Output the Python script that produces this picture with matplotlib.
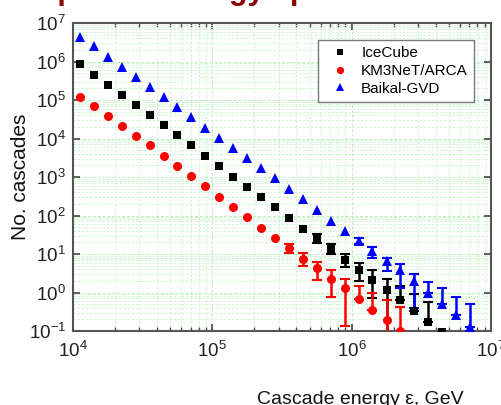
import matplotlib
matplotlib.use("Agg")
import matplotlib.pyplot as plt
from matplotlib.ticker import LogLocator, NullFormatter
import numpy as np

plt.rcParams['font.family'] = ['Liberation Sans', 'DejaVu Sans']
plt.rcParams['mathtext.fontset'] = 'custom'
plt.rcParams['mathtext.rm'] = 'Liberation Sans'
plt.rcParams['mathtext.it'] = 'Liberation Sans:italic'

# Cascade energy bin centres, GeV
energy = [1.12e4, 1.41e4, 1.78e4, 2.24e4, 2.82e4, 3.55e4, 4.47e4, 5.62e4, 7.08e4, 8.91e4,
          1.12e5, 1.41e5, 1.78e5, 2.24e5, 2.82e5, 3.55e5, 4.47e5, 5.62e5, 7.08e5, 8.91e5,
          1.12e6, 1.41e6, 1.78e6, 2.24e6, 2.82e6, 3.55e6, 4.47e6, 5.62e6, 7.08e6]

icecube = [8.45e5, 4.54e5, 2.40e5, 1.38e5, 7.6e4, 4.07e4, 2.19e4, 1.20e4, 6.8e3, 3.5e3,
           1.95e3, 1.02e3, 562, 309, 162, 87, 45.7, 25.7, 13.8, 7.1,
           3.9, 2.14, 1.17, 0.64, 0.335, 0.174, 0.095]
km3net = [1.22e5, 6.98e4, 3.89e4, 2.14e4, 1.17e4, 6.6e3, 3.55e3, 1.95e3, 1.07e3, 589,
          309, 170, 93, 46.8, 26.3, 14.5, 7.4, 4.3, 2.24, 1.29,
          0.66, 0.35, 0.195, 0.102]
baikal = [4.37e6, 2.51e6, 1.33e6, 7.33e5, 3.89e5, 2.14e5, 1.17e5, 6.46e4, 3.55e4, 1.91e4,
          1.02e4, 5.6e3, 3.09e3, 1.68e3, 925, 488, 263, 135, 74, 39.8,
          21.9, 11.7, 6.6, 3.8, 1.95, 0.955, 0.50, 0.263, 0.126]

# error bar bounds (upper / lower) for the high-energy tail points
icecube_err_start = 17
icecube_hi = [33, 17.8, 10, 6.0, 3.8, 2.2, 1.48, 0.89, 0.575]
icecube_lo = [19.5, 10, 4.6, 2.0, 0.74, 0.01, 0.64, 0.335, 0.174]
km3net_err_start = 15
km3net_hi = [17.8, 10.7, 6.3, 3.8, 2.2, 1.48, 0.955, 0.62, 0.43]
km3net_lo = [10.5, 5.0, 2.1, 0.78, 0.135, 0.66, 0.35, 0.01, 0.01]
baikal_err_start = 20
baikal_hi = [26.3, 15.5, 8.1, 5.4, 2.95, 1.9, 1.29, 0.78, 0.50]
baikal_lo = [18.2, 8.1, 3.7, 1.29, 0.39, 0.955, 0.50, 0.263, 0.126]

labels = ['IceCube', 'KM3NeT/ARCA', 'Baikal-GVD']
colors = ['#000000', '#ff0000', '#0000ff']
markers = ['s', 'o', '^']
msizes = [6.0, 6.5, 7.0]

W, H = 501, 405
fig = plt.figure(figsize=(W / 100, H / 100), dpi=100)
ax = fig.add_axes([73 / W, (H - 331) / H, (491 - 73) / W, (331 - 23) / H])
ax.set_xscale('log')
ax.set_yscale('log')
ax.set_xlim(1e4, 1e7)
ax.set_ylim(1e-1, 1e7)

series = [(icecube, icecube_err_start, icecube_hi, icecube_lo),
          (km3net, km3net_err_start, km3net_hi, km3net_lo),
          (baikal, baikal_err_start, baikal_hi, baikal_lo)]

for (vals, st, hi, lo), lab, c, m, ms in zip(series, labels, colors, markers, msizes):
    x = np.array(energy[:len(vals)])
    y = np.array(vals)
    xe = x[st:st + len(hi)]
    ye = y[st:st + len(hi)]
    yerr = [np.maximum(ye - np.array(lo), 0), np.maximum(np.array(hi) - ye, 0)]
    ax.errorbar(xe, ye, yerr=yerr, fmt='none', ecolor=c, elinewidth=1.8,
                capsize=3.5, capthick=1.5, zorder=3)
    ax.plot(x, y, linestyle='none', marker=m, color=c, markersize=ms,
            markeredgewidth=0, label=lab, zorder=4)

# grid
ax.grid(True, which='major', color='#b9f0b9', linestyle=(0, (3, 2)), linewidth=0.7)
ax.grid(True, which='minor', color='#c8f4c8', linestyle=(0, (3, 2)), linewidth=0.6)
ax.set_axisbelow(True)

ax.xaxis.set_major_locator(LogLocator(base=10, numticks=10))
ax.xaxis.set_minor_locator(LogLocator(base=10, subs=np.arange(2, 10), numticks=10))
ax.xaxis.set_minor_formatter(NullFormatter())
ax.yaxis.set_major_locator(LogLocator(base=10, numticks=20))
ax.yaxis.set_minor_locator(LogLocator(base=10, subs=np.arange(2, 10), numticks=20))
ax.yaxis.set_minor_formatter(NullFormatter())

ax.tick_params(axis='both', which='major', direction='in', top=True, right=True,
               length=5, width=1.2, color='#444444', labelsize=13.5, labelcolor='#222222')
ax.tick_params(axis='x', which='major', pad=7)
ax.tick_params(axis='y', which='major', pad=5)
ax.tick_params(axis='x', which='minor', direction='in', top=True, bottom=True,
               length=3, width=1.0, color='#444444')
ax.tick_params(axis='y', which='minor', length=0)
for s in ax.spines.values():
    s.set_color('#555555')
    s.set_linewidth(1.5)

fig.text(21 / W, 1 - 177 / H, 'No. cascades', rotation=90, ha='center', va='center',
         fontsize=15, color='#111111')

fig.text(360 / W, 1.5 / H, 'Cascade energy \u03b5, GeV', ha='center', va='baseline',
         fontsize=14, color='#111111')

# clipped slide title at the top (only the descenders show)
fig.text(20 / W, (H + 0.5) / H, 'Expected energy spectra', ha='left', va='baseline',
         fontsize=22, fontweight='bold', color='#8b0000')

leg = ax.legend(loc='upper right', bbox_to_anchor=((474 - 73) / (491 - 73), (331 - 40) / (331 - 23)),
                borderaxespad=0.0,
                fontsize=11, frameon=True, fancybox=False, edgecolor='#777777',
                framealpha=1.0, borderpad=0.4, labelspacing=0.25, handletextpad=0.35,
                handlelength=2.1, markerscale=0.8)
leg.get_frame().set_linewidth(1.0)

fig.savefig('out.png', dpi=100)
